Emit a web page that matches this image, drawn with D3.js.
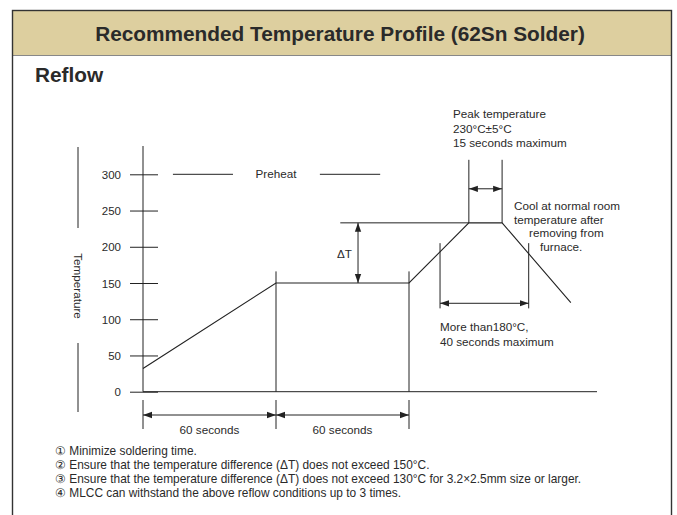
<html>
  <head>
    <title>Recommended Temperature Profile</title>
    <script src="https://d3js.org/d3.v7.min.js"></script>
    <style>
      body{margin:0;background:#fff;}
      text{font-family:"Liberation Sans",Arial,Helvetica,sans-serif;fill:#2a2a2a;}
    </style>
  </head>
  <body>
    <script>
      // profile (seconds, degC)
      var times=[0,60,120,147,162,193];
      var temps=[32,150,150,233,233,123];
      var yTicks=[0,50,100,150,200,250,300];
      var notes=["\u2460 Minimize soldering time.",
                 "\u2461 Ensure that the temperature difference (\u0394T) does not exceed 150\u00b0C.",
                 "\u2462 Ensure that the temperature difference (\u0394T) does not exceed 130\u00b0C for 3.2\u00d72.5mm size or larger.",
                 "\u2463 MLCC can withstand the above reflow conditions up to 3 times."];
      var peakText=["Peak temperature","230\u00b0C\u00b15\u00b0C","15 seconds maximum"];
      var coolText=["Cool at normal room","temperature after","removing from","furnace."];
      var over180Text=["More than180\u00b0C,","40 seconds maximum"];
      var peakWindow=[147,162];
      var over180=[134,174];
      var segs=[0,60,120];

      var W=677,H=515;
      var ink="#222";
      var fs='11.7px';
      var svg=d3.select('body').append('svg')
                .attr('width',W)
                .attr('height',H);

      var defs=svg.append('defs');
      defs.append('marker').attr('id','arr')
          .attr('viewBox','0 0 10 10').attr('refX',10).attr('refY',5)
          .attr('markerWidth',9).attr('markerHeight',9)
          .attr('markerUnits','userSpaceOnUse')
          .attr('orient','auto-start-reverse')
          .append('path').attr('d','M0,1.5L10,5L0,8.5Z').attr('fill',ink);

      // frame + header band
      svg.append('rect').attr('x',12.5).attr('y',10.5).attr('width',659).attr('height',45)
         .attr('fill','#ddcf9f');
      svg.append('line').attr('x1',12.5).attr('x2',671.5).attr('y1',55.5).attr('y2',55.5)
         .attr('stroke','#888').attr('stroke-width',1.2);
      svg.append('rect').attr('x',12.5).attr('y',10.5).attr('width',659).attr('height',540)
         .attr('fill','none').attr('stroke','#333').attr('stroke-width',1.4);

      svg.append('text').attr('x',340).attr('y',41).attr('text-anchor','middle')
         .style('font-size','20.8px').style('font-weight','bold')
         .text('Recommended Temperature Profile (62Sn Solder)');
      svg.append('text').attr('x',35).attr('y',82)
         .style('font-size','20.8px').style('font-weight','bold')
         .text('Reflow');

      var x=d3.scaleLinear().domain([0,120]).range([143,409]);
      var y=d3.scaleLinear().domain([0,300]).range([391.7,174.3]);

      function line(x1,y1,x2,y2){
        return svg.append('line').attr('x1',x1).attr('y1',y1).attr('x2',x2).attr('y2',y2)
                  .attr('stroke',ink).attr('stroke-width',1);
      }
      function arrow(x1,y1,x2,y2){
        return line(x1,y1,x2,y2).attr('marker-start','url(#arr)').attr('marker-end','url(#arr)');
      }
      function label(px,py,s){
        return svg.append('text').attr('x',px).attr('y',py).style('font-size',fs).text(s);
      }

      // y axis with long ticks
      line(x(0),146,x(0),y(0));
      line(x(0),y(0),597,y(0));
      var yAxis=d3.axisLeft(y).tickValues(yTicks).tickSize(13).tickPadding(9);
      var gy=svg.append('g').attr('transform','translate('+x(0)+',0)').call(yAxis);
      gy.select('.domain').remove();
      gy.selectAll('.tick line').attr('x2',15).attr('x1',-13).attr('stroke',ink);
      gy.selectAll('.tick text').style('font-size','11.5px').attr('fill','#333')
        .style('font-family','"Liberation Sans",Arial,sans-serif').attr('dy','0.35em');

      // temperature label with bracket
      line(78,147,78,228);
      line(78,343,78,412);
      svg.append('text').attr('transform','translate(74,286) rotate(90)')
         .attr('text-anchor','middle').style('font-size',fs).text('Temperature');

      // profile
      var pts=times.map(function(t,i){return [x(t),y(temps[i])];});
      svg.append('path').attr('d',d3.line()(pts))
         .attr('fill','none').attr('stroke',ink).attr('stroke-width',1.1);

      // preheat verticals
      line(x(60),y(166),x(60),y(0));
      line(x(120),y(166),x(120),y(0));

      // preheat label on 300 line
      line(x(13.5),y(300),x(40.6),y(300));
      line(x(79.8),y(300),x(107),y(300));
      label(x(60),y(300)+4,'Preheat').attr('text-anchor','middle');

      // delta T
      line(x(89),y(temps[3]),x(peakWindow[0]),y(temps[3]));
      arrow(x(97),y(temps[3]),x(97),y(150));
      label(352,y(190)+4,'\u0394T').attr('text-anchor','end');

      // peak window
      peakWindow.forEach(function(t){ line(x(t),y(320),x(t),y(temps[3])); });
      arrow(x(peakWindow[0]),y(280),x(peakWindow[1]),y(280));
      peakText.forEach(function(s,i){ label(453,118+i*14.5,s); });

      // cooling note
      var coolX=[514,514,529,540];
      coolText.forEach(function(s,i){ label(coolX[i],210+i*13.5,s); });

      // above 180 window
      over180.forEach(function(t){ line(x(t),y(205),x(t),y(115)); });
      arrow(x(over180[0]),y(122),x(over180[1]),y(122));
      over180Text.forEach(function(s,i){ label(x(over180[0]),331+i*14.5,s); });

      // 60 second dimensions under axis
      segs.forEach(function(t){ line(x(t),400,x(t),429); });
      for(var i=0;i<segs.length-1;i++)
      {
        arrow(x(segs[i]),415,x(segs[i+1]),415);
        label((x(segs[i])+x(segs[i+1]))/2,434,'60 seconds').attr('text-anchor','middle');
      }

      // notes
      notes.forEach(function(s,i){ label(55,455+i*14,s).style('font-size','11.9px'); });
    </script>
  </body>
</html>
